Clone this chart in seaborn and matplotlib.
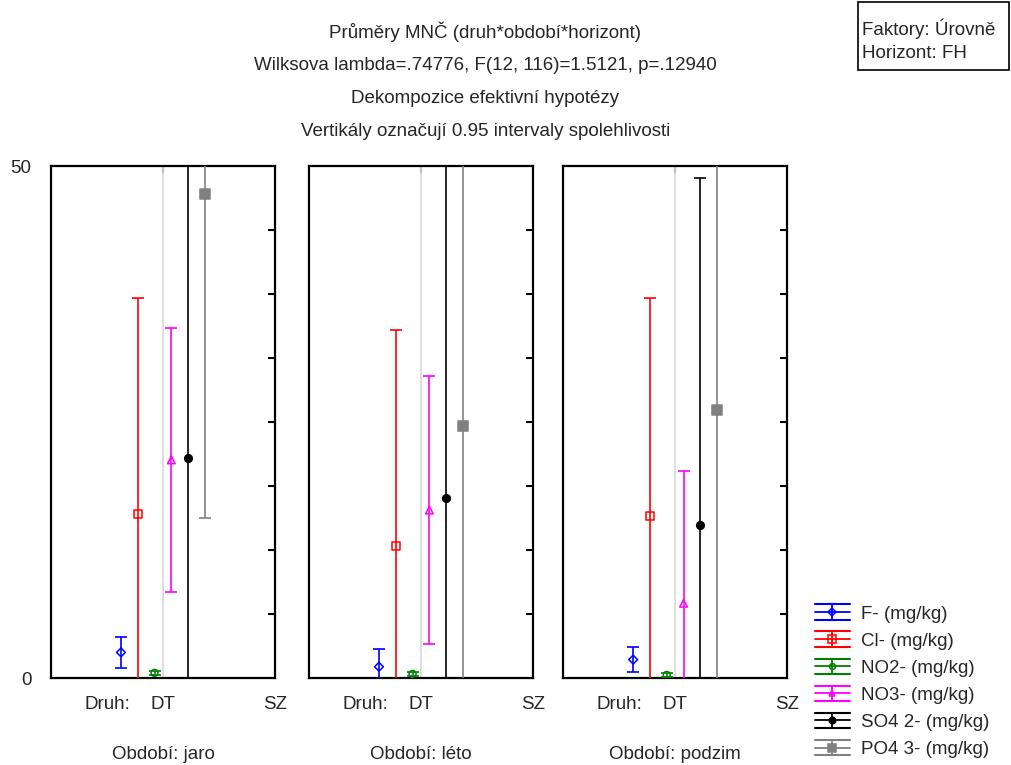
import numpy as np
import pandas as pd
import matplotlib
matplotlib.use("Agg")
import matplotlib.pyplot as plt
from matplotlib.patches import Rectangle
from matplotlib.lines import Line2D
from matplotlib.legend_handler import HandlerBase
import seaborn as sns

# ---- data ----
periods = ["jaro", "léto", "podzim"]
categories = ["DT", "SZ"]
series = ["F- (mg/kg)", "Cl- (mg/kg)", "NO2- (mg/kg)", "NO3- (mg/kg)",
          "SO4 2- (mg/kg)", "PO4 3- (mg/kg)"]
mean_F = [2.5, 1.1, 1.8]
mean_Cl = [16.0, 12.9, 15.8]
mean_NO2 = [0.5, 0.4, 0.3]
mean_NO3 = [21.3, 16.4, 7.3]
mean_SO4 = [21.5, 17.6, 14.9]
mean_PO4 = [47.3, 24.6, 26.2]
ci_F = [1.5, 1.7, 1.2]
ci_Cl = [21.1, 21.1, 21.3]
ci_NO2 = [0.2, 0.2, 0.2]
ci_NO3 = [12.9, 13.1, 12.9]
ci_SO4 = [33.9, 33.9, 33.9]
ci_PO4 = [31.7, 31.7, 31.7]

title_lines = ["Průměry MNČ (druh*období*horizont)",
               "Wilksova lambda=.74776, F(12, 116)=1.5121, p=.12940",
               "Dekompozice efektivní hypotézy",
               "Vertikály označují 0.95 intervaly spolehlivosti"]

means = [mean_F, mean_Cl, mean_NO2, mean_NO3, mean_SO4, mean_PO4]
cis = [ci_F, ci_Cl, ci_NO2, ci_NO3, ci_SO4, ci_PO4]

rows = []
for s, m, c in zip(series, means, cis):
    for p, mv, cv in zip(periods, m, c):
        rows.append(dict(series=s, period=p, cat="DT", mean=mv, ci=cv))
df = pd.DataFrame(rows)

# ---- style ----
sns.set_theme(style="white")
plt.rcParams['font.family'] = ['Liberation Sans', 'DejaVu Sans']
FS = 13.5
plt.rcParams['font.size'] = FS

colors = ["#0000ff", "#ff0000", "#008000", "#ff00ff", "#000000", "#808080"]
markers = ["D", "s", "o", "^", "o", "s"]
msizes = [4.5, 6, 5, 5.5, 5.5, 6.5]
filled = [False, False, False, False, True, True]
offsets = np.linspace(-0.375, 0.375, 6)

fig = plt.figure(figsize=(10.11, 7.65), dpi=100)
lefts = [0.0504, 0.3056, 0.557]
width = 0.2216
bottom, top = 0.1137, 0.783
axes = []
for i, p in enumerate(periods):
    ax = fig.add_axes([lefts[i], bottom, width, top - bottom])
    axes.append(ax)
    ax.axvline(0, color="#dcdcdc", lw=1.3, zorder=0.5)
    sub = df[df.period == p].copy()
    sub["x"] = [categories.index(c) + offsets[series.index(s)] for c, s in zip(sub.cat, sub.series)]
    for j, s in enumerate(series):
        r = sub[sub.series == s]
        ax.errorbar(r["x"], r["mean"], yerr=r["ci"], fmt="none", ecolor=colors[j],
                    elinewidth=1.2, capsize=4.3, capthick=1.2, zorder=3)
    for j, s in enumerate(series):
        r = sub[sub.series == s]
        sns.scatterplot(data=r, x="x", y="mean", ax=ax, color=colors[j], marker=markers[j],
                        s=msizes[j] ** 2, facecolor=colors[j] if filled[j] else "none",
                        edgecolor=colors[j], linewidth=1.1, zorder=4, legend=False)
    ax.set_xlim(-1, 1)
    ax.set_ylim(0, 50)
    ax.set_xticks([-0.5, 0, 1])
    ax.set_xticklabels(["Druh:", "DT", "SZ"])
    ax.tick_params(axis="x", length=0, pad=13, labelsize=FS)
    ax.set_xlabel("Období: " + p, labelpad=24, fontsize=FS)
    ax.set_ylabel("")
    ax.set_yticks([0, 50])
    ax.set_yticks(np.arange(6.25, 50, 6.25), minor=True)
    ax.tick_params(axis="y", which="major", length=0, left=False, right=False,
                   labelleft=(i == 0), pad=14, labelsize=FS)
    ax.tick_params(axis="y", which="minor", left=False, right=True, direction="in",
                   length=5, width=1.5, color="black")
    sec = ax.secondary_xaxis("top")
    sec.set_xticks([0])
    sec.tick_params(direction="in", length=5, width=1.5, labeltop=False, color="black")
    for sp in sec.spines.values():
        sp.set_visible(False)
    for sp in ax.spines.values():
        sp.set_visible(True)
        sp.set_color("black")
        sp.set_linewidth(1.6)


class ErrorbarGlyph(HandlerBase):
    def create_artists(self, legend, orig_handle, xdescent, ydescent, width, height,
                       fontsize, trans):
        c = orig_handle.get_color()
        x0, x1 = -xdescent, -xdescent + width
        y0, y1 = -ydescent, -ydescent + height
        xm, ym = (x0 + x1) / 2, (y0 + y1) / 2
        arts = [Line2D([x0, x1], [y0, y0], color=c, lw=1.5),
                Line2D([x0, x1], [y1, y1], color=c, lw=1.5),
                Line2D([x0, x1], [ym, ym], color=c, lw=1.3),
                Line2D([xm, xm], [y0, y1], color=c, lw=1.3),
                Line2D([xm], [ym], color=c, marker=orig_handle.get_marker(),
                       ms=orig_handle.get_markersize(),
                       mfc=orig_handle.get_markerfacecolor(), mec=c, mew=1.1, ls="none")]
        for a in arts:
            a.set_transform(trans)
        return arts


proxies = [Line2D([], [], color=colors[j], marker=markers[j], ms=msizes[j] * 0.85,
                  mfc=colors[j] if filled[j] else "none") for j in range(len(series))]
fig.legend(proxies, series, loc="lower left", bbox_to_anchor=(0.793, -0.008),
           frameon=False, fontsize=FS, handlelength=1.85, handleheight=0.9,
           labelspacing=0.47, handletextpad=0.6, borderpad=0.2,
           handler_map={Line2D: ErrorbarGlyph()})

# titles
ys = [0.958, 0.915, 0.871, 0.828]
for t, y in zip(title_lines, ys):
    fig.text(0.48, y, t, ha="center", va="center", fontsize=FS)

fig.patches.append(Rectangle((0.849, 0.908), 0.149, 0.089, transform=fig.transFigure,
                             fill=False, ec="black", lw=1.2))
fig.text(0.853, 0.963, "Faktory: Úrovně", ha="left", va="center", fontsize=FS)
fig.text(0.853, 0.930, "Horizont: FH", ha="left", va="center", fontsize=FS)

fig.savefig("out.png", dpi=100)
